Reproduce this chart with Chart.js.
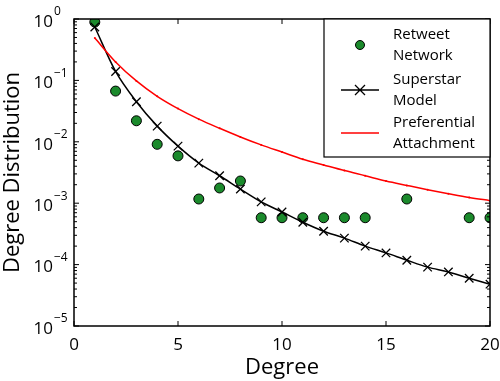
<!DOCTYPE html>
<html>
<head>
<meta charset="utf-8">
<script src="https://cdn.jsdelivr.net/npm/chart.js@4.4.1/dist/chart.umd.min.js"></script>
<style>
  html, body { margin: 0; padding: 0; background: #fff; }
  #wrap { width: 500px; height: 381px; }
</style>
</head>
<body>
<div id="wrap"><canvas id="myChart" width="500" height="381"></canvas></div>
<script>
const degrees = [1, 2, 3, 4, 5, 6, 7, 8, 9, 10, 11, 12, 13, 14, 15, 16, 17, 18, 19, 20];

// observed retweet network (missing degrees have no point)
const retweetX = [1, 2, 3, 4, 5, 6, 7, 8, 9, 10, 11, 12, 13, 14, 16, 19, 20];
const retweetY = [0.89, 0.067, 0.022, 0.0091, 0.0059, 0.00117, 0.00177, 0.0023, 0.00058, 0.00058,
                  0.00058, 0.00058, 0.00058, 0.00058, 0.00117, 0.00058, 0.00058];

const superstarY = [0.74, 0.14, 0.045, 0.018, 0.0085, 0.0045, 0.0028, 0.0017, 0.00105, 0.00072,
                    0.00049, 0.00035, 0.00027, 0.0002, 0.000155, 0.000118, 0.000091, 0.000076, 0.00006, 0.000048];

const prefAttachY = [0.49, 0.2, 0.098, 0.055, 0.0347, 0.0234, 0.0166, 0.012, 0.0089, 0.0068,
                     0.0052, 0.0042, 0.0034, 0.0028, 0.0023, 0.00195, 0.00166, 0.00143, 0.00124, 0.0011];

const xTicks = [0, 5, 10, 15, 20];
const yExponents = [0, -1, -2, -3, -4, -5];
const legendLabels = [['Retweet', 'Network'], ['Superstar', 'Model'], ['Preferential', 'Attachment']];

const FONT = "'Open Sans', 'Liberation Sans', sans-serif";
const GREEN = '#1b8a2c';

function toPoints(xs, ys) {
	return xs.map((x, i) => ({ x: x, y: ys[i] }));
}

// frame, inward ticks and tick labels, drawn from the scales
const axesPlugin = {
	id: 'axesFrame',
	afterDatasetsDraw(chart) {
		const ctx = chart.ctx;
		const area = chart.chartArea;
		const xs = chart.scales.x;
		const ys = chart.scales.y;
		ctx.save();
		ctx.strokeStyle = '#000';
		ctx.lineWidth = 1.5;
		ctx.strokeRect(area.left, area.top, area.right - area.left, area.bottom - area.top);

		ctx.lineWidth = 1;
		ctx.beginPath();
		xTicks.forEach(t => {
			const px = xs.getPixelForValue(t);
			ctx.moveTo(px, area.bottom); ctx.lineTo(px, area.bottom - 5);
			ctx.moveTo(px, area.top); ctx.lineTo(px, area.top + 5);
		});
		yExponents.forEach(e => {
			for (let m = 1; m <= 9; m++) {
				const v = m * Math.pow(10, e);
				if (v > 1.0001 || v < 1e-5 * 0.999) continue;
				const py = ys.getPixelForValue(v);
				const len = m === 1 ? 5 : 3;
				ctx.moveTo(area.left, py); ctx.lineTo(area.left + len, py);
				ctx.moveTo(area.right, py); ctx.lineTo(area.right - len, py);
			}
		});
		ctx.stroke();

		ctx.fillStyle = '#000';
		ctx.font = '17px ' + FONT;
		ctx.textAlign = 'center';
		ctx.textBaseline = 'middle';
		xTicks.forEach(t => {
			ctx.fillText(String(t), xs.getPixelForValue(t), area.bottom + 19);
		});

		yExponents.forEach(e => {
			const py = ys.getPixelForValue(Math.pow(10, e));
			ctx.font = '17px ' + FONT;
			ctx.textAlign = 'right';
			ctx.fillText('10', 53, py + 3);
			ctx.font = '12px ' + FONT;
			ctx.textAlign = 'left';
			ctx.fillText(e < 0 ? '\u2212' + (-e) : String(e), 54, py - 7);
		});
		ctx.restore();
	}
};

// boxed legend in the upper right of the plot
const legendPlugin = {
	id: 'boxLegend',
	afterDatasetsDraw(chart) {
		const ctx = chart.ctx;
		const area = chart.chartArea;
		const left = 324, top = area.top, right = area.right, bottom = 157;
		ctx.save();
		ctx.fillStyle = '#fff';
		ctx.fillRect(left, top, right - left, bottom - top);
		ctx.strokeStyle = '#000';
		ctx.lineWidth = 1.2;
		ctx.strokeRect(left, top, right - left, bottom - top);

		const rows = [45, 90, 133];
		// marker samples
		ctx.beginPath();
		ctx.arc(360, rows[0], 4.5, 0, Math.PI * 2);
		ctx.fillStyle = GREEN;
		ctx.fill();
		ctx.lineWidth = 1;
		ctx.strokeStyle = '#000';
		ctx.stroke();

		ctx.beginPath();
		ctx.moveTo(341, rows[1]); ctx.lineTo(379, rows[1]);
		ctx.moveTo(355, rows[1] - 5); ctx.lineTo(365, rows[1] + 5);
		ctx.moveTo(355, rows[1] + 5); ctx.lineTo(365, rows[1] - 5);
		ctx.lineWidth = 1.3;
		ctx.stroke();

		ctx.beginPath();
		ctx.moveTo(341, rows[2]); ctx.lineTo(379, rows[2]);
		ctx.strokeStyle = '#ff0000';
		ctx.stroke();

		ctx.fillStyle = '#000';
		ctx.font = '15px ' + FONT;
		ctx.textAlign = 'left';
		ctx.textBaseline = 'middle';
		legendLabels.forEach((lines, i) => {
			ctx.fillText(lines[0], 393, rows[i] - 10);
			ctx.fillText(lines[1], 393, rows[i] + 11);
		});
		ctx.restore();
	}
};

new Chart('myChart', {
	type: 'line',
	data: {
		datasets: [
			{
				label: 'Preferential Attachment',
				data: toPoints(degrees, prefAttachY),
				borderColor: '#ff0000',
				backgroundColor: '#ff0000',
				borderWidth: 1.5,
				pointRadius: 1,
				pointBorderWidth: 0,
				cubicInterpolationMode: 'monotone',
				fill: false
			},
			{
				label: 'Superstar Model',
				data: toPoints(degrees, superstarY),
				borderColor: '#000',
				backgroundColor: '#000',
				borderWidth: 1.5,
				pointStyle: 'crossRot',
				pointRadius: 6,
				pointBorderWidth: 1.3,
				cubicInterpolationMode: 'monotone',
				fill: false
			},
			{
				label: 'Retweet Network',
				data: toPoints(retweetX, retweetY),
				showLine: false,
				borderColor: '#000',
				backgroundColor: GREEN,
				pointRadius: 5,
				pointBorderWidth: 1,
				fill: false
			}
		]
	},
	options: {
		responsive: false,
		animation: false,
		layout: { padding: { top: 19, right: 10, left: 0, bottom: 0 } },
		plugins: {
			legend: { display: false },
			tooltip: { enabled: false }
		},
		scales: {
			x: {
				type: 'linear',
				min: 0,
				max: 20,
				grid: { display: false },
				border: { display: false },
				ticks: { display: false },
				title: {
					display: true,
					text: 'Degree',
					color: '#000',
					font: { family: FONT, size: 22 },
					padding: { top: 26, bottom: 0 }
				},
				afterFit(scale) { scale.height = 55; }
			},
			y: {
				type: 'logarithmic',
				min: 1e-5,
				max: 1,
				grid: { display: false },
				border: { display: false },
				ticks: { display: false },
				title: {
					display: true,
					text: 'Degree Distribution',
					color: '#000',
					font: { family: FONT, size: 22 },
					padding: { top: 0, bottom: 0 }
				},
				afterFit(scale) { scale.width = 74; }
			}
		}
	},
	plugins: [axesPlugin, legendPlugin]
});
</script>
</body>
</html>
